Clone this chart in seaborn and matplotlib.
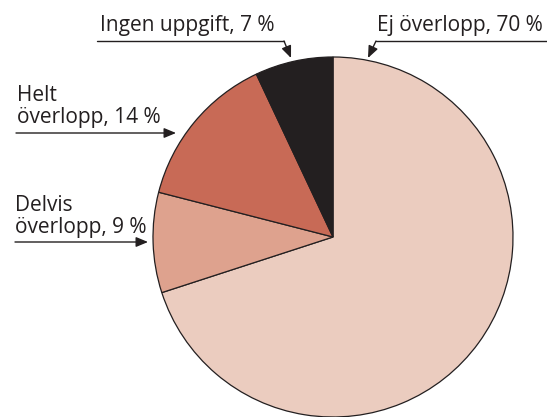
import matplotlib
matplotlib.use("Agg")
import matplotlib.pyplot as plt
import seaborn as sns

sns.set_theme(style="white")
plt.rcParams['font.family'] = ['Open Sans', 'DejaVu Sans']

categories = ["Ej överlopp", "Delvis överlopp", "Helt överlopp", "Ingen uppgift"]
values = [70, 9, 14, 7]
label_texts = ["Ej överlopp, 70 %", "Delvis\növerlopp, 9 %", "Helt\növerlopp, 14 %", "Ingen uppgift, 7 %"]
colors = ["#EBCCBF", "#DEA28E", "#C86A56", "#231F20"]

W, H = 547, 417
fig = plt.figure(figsize=(W / 100, H / 100), dpi=100)
ax = fig.add_axes([0, 0, 1, 1])
ax.set_xlim(0, W)
ax.set_ylim(0, H)
ax.set_aspect("equal")
ax.axis("off")

def Y(py):
    return H - py

cx, cy, r = 333, 237, 180
ax.pie(values, colors=colors, startangle=90, counterclock=False,
       center=(cx, Y(cy)), radius=r, frame=True,
       wedgeprops=dict(edgecolor="#231F20", linewidth=0.9))
ax.set_xlim(0, W)
ax.set_ylim(0, H)
ax.axis("off")

fs = 15
tc = "#231F20"
arrow = dict(arrowstyle="-|>,head_length=0.6,head_width=0.25", color=tc, lw=1.0,
             shrinkA=0, shrinkB=0)

# Ingen uppgift
ax.text(100, Y(31), label_texts[3], fontsize=fs, color=tc, ha="left", va="baseline")
ax.plot([97, 284], [Y(41), Y(41)], color=tc, lw=1.0)
ax.annotate("", xy=(291, Y(58)), xytext=(284, Y(41)), arrowprops=arrow)

# Ej overlopp
ax.text(377, Y(31), label_texts[0], fontsize=fs, color=tc, ha="left", va="baseline")
ax.plot([376, W], [Y(41), Y(41)], color=tc, lw=1.0)
ax.annotate("", xy=(368, Y(58)), xytext=(376, Y(41)), arrowprops=arrow)

# Helt overlopp
ax.text(17, Y(123), label_texts[2], fontsize=fs, color=tc, ha="left", va="baseline",
        linespacing=1.05)
ax.annotate("", xy=(176, Y(133)), xytext=(16, Y(133)), arrowprops=arrow)

# Delvis overlopp
ax.text(15, Y(233), label_texts[1], fontsize=fs, color=tc, ha="left", va="baseline",
        linespacing=1.05)
ax.annotate("", xy=(148, Y(242)), xytext=(15, Y(242)), arrowprops=arrow)

fig.savefig("out.png", dpi=100)
